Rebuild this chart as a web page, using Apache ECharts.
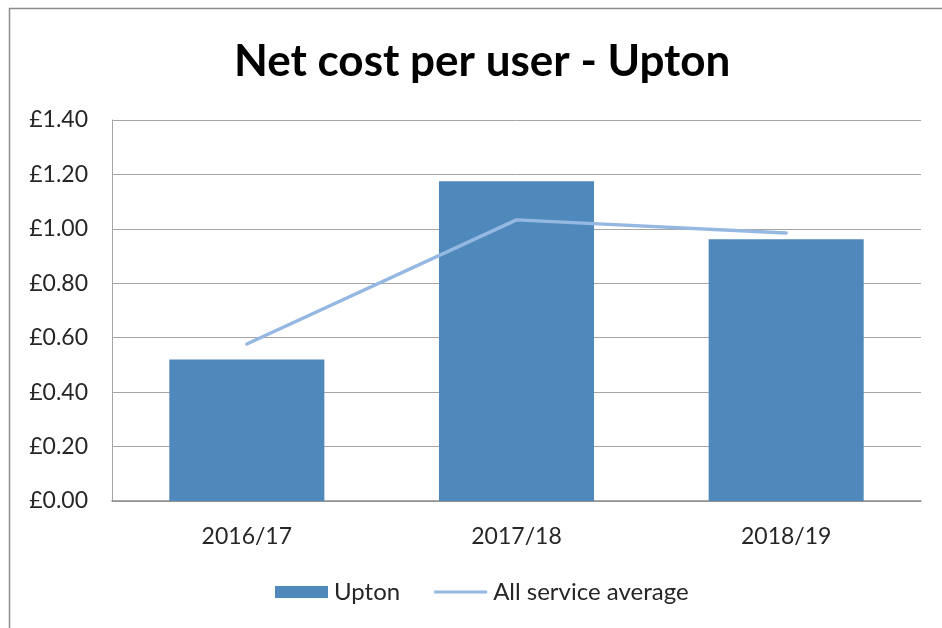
<!DOCTYPE html>
<html>
<head>
<meta charset="utf-8">
<script src="https://cdn.jsdelivr.net/npm/echarts@6/dist/echarts.min.js"></script>
<style>
html,body{margin:0;padding:0;background:#fff;}
#c{width:942px;height:628px;}
</style>
</head>
<body>
<div id="c"></div>
<script>
const categories = ['2016/17', '2017/18', '2018/19'];
const uptonValues = [0.52, 1.175, 0.962];
const averageValues = [0.577, 1.033, 0.985];
const titleText = 'Net cost per user - Upton';
const seriesNames = ['Upton', 'All service average'];

const FONT = 'Lato, "Open Sans", sans-serif';
const chart = echarts.init(document.getElementById('c'), null, {renderer: 'canvas'});
chart.setOption({
  backgroundColor: '#fff',
  animation: false,
  title: {
    text: titleText,
    left: 229,
    top: 35,
    textStyle: {fontFamily: FONT, fontSize: 44, fontWeight: 'bold', color: '#000'}
  },
  grid: {left: 112, right: 21, top: 120, bottom: 127, containLabel: false},
  legend: {
    data: [
      {name: seriesNames[0], icon: 'rect'},
      {name: seriesNames[1], icon: 'path://M0,0 M0,12 M0,4.5 L54,4.5 L54,7.5 L0,7.5 Z'}
    ],
    top: 575,
    left: 270,
    itemGap: 34,
    itemWidth: 53,
    itemHeight: 12,
    textStyle: {fontFamily: FONT, fontSize: 24, color: '#262626', padding: [0,0,0,1]}
  },
  xAxis: {
    type: 'category',
    data: categories,
    axisLine: {lineStyle: {color: '#8c8c8c', width: 1.5}},
    axisTick: {show: false},
    axisLabel: {fontFamily: FONT, fontSize: 23, color: '#262626', margin: 24}
  },
  yAxis: {
    type: 'value',
    min: 0, max: 1.4, interval: 0.2,
    axisLine: {show: true, lineStyle: {color: '#a6a6a6', width: 1}},
    axisTick: {show: false},
    splitLine: {lineStyle: {color: '#a6a6a6', width: 1}},
    axisLabel: {fontFamily: FONT, fontSize: 23, color: '#262626', margin: 24,
      formatter: v => '£' + v.toFixed(2)}
  },
  series: [
    {
      name: seriesNames[0],
      type: 'bar',
      data: uptonValues,
      barWidth: '57.5%',
      itemStyle: {color: '#4f89bc'}
    },
    {
      name: seriesNames[1],
      type: 'line',
      data: averageValues,
      symbol: 'none',
      lineStyle: {color: '#95b8e2', width: 3.5, cap: 'round'},
      itemStyle: {color: '#95b8e2'}
    }
  ],
  graphic: [
    {type: 'line', shape: {x1: 9.5, y1: 8, x2: 9.5, y2: 628}, style: {stroke: '#8c8c8c', lineWidth: 1.5}, silent: true},
    {type: 'line', shape: {x1: 9, y1: 8.5, x2: 942, y2: 8.5}, style: {stroke: '#8c8c8c', lineWidth: 1.5}, silent: true}
  ]
});
</script>
</body>
</html>
